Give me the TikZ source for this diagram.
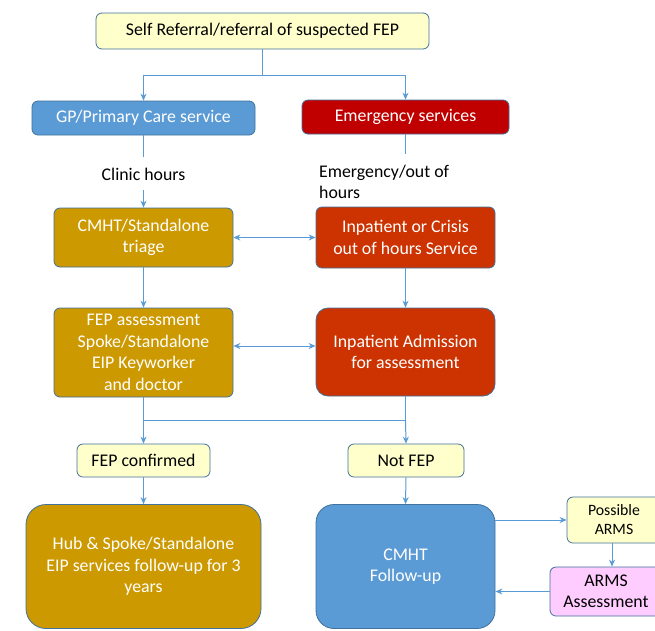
\documentclass[tikz,border=0pt]{standalone}
\usepackage{fontspec}
\setmainfont{Carlito}
\usetikzlibrary{arrows.meta,calc}
\definecolor{lineblue}{HTML}{5B9BD5}
\definecolor{edgeblue}{HTML}{41719C}
\definecolor{paleyellow}{HTML}{FFFFCC}
\definecolor{gpblue}{HTML}{5B9BD5}
\definecolor{emred}{HTML}{C00000}
\definecolor{crisisred}{HTML}{CC3300}
\definecolor{gold}{HTML}{CC9900}
\definecolor{armspink}{HTML}{FFCCFF}
\tikzset{
  box/.style={draw=edgeblue, line width=0.8pt, rounded corners=6pt, align=center,
    inner sep=0pt, font=\fontsize{17.8}{21.5}\selectfont},
  pale/.style={box, fill=paleyellow, text=black},
  blueb/.style={box, fill=gpblue, text=white},
  redb/.style={box, fill=emred, text=white},
  orangeb/.style={box, fill=crisisred, text=white},
  goldb/.style={box, fill=gold, text=white},
  pinkb/.style={box, fill=armspink, text=black},
  conn/.style={draw=lineblue, line width=1pt},
  arr/.style={conn, -{Stealth[length=7pt,width=6pt]}},
  dblarr/.style={conn, {Stealth[length=7pt,width=6pt]}-{Stealth[length=7pt,width=6pt]}},
  lbl/.style={font=\fontsize{17.8}{21.5}\selectfont, inner sep=0pt}
}
\begin{document}
\begin{tikzpicture}[x=1pt,y=-1pt]
\useasboundingbox (0,0) rectangle (655,630);
\fill[white] (0,0) rectangle (655,630);

% boxes
\node[pale, minimum width=333pt, minimum height=36pt] (top) at (262.5,31) {Self Referral/referral of suspected FEP};
\node[blueb, minimum width=223pt, minimum height=34pt] (gp) at (143.5,118) {GP/Primary Care service};
\node[redb, minimum width=207pt, minimum height=34pt] (em) at (405.5,117) {Emergency services};
\node[goldb, minimum width=179pt, minimum height=59pt] (cmht) at (143.5,237.5) {CMHT/Standalone\\triage};
\node[orangeb, minimum width=179pt, minimum height=61pt] (crisis) at (405.5,237.5) {Inpatient or Crisis\\out of hours Service};
\node[goldb, minimum width=179pt, minimum height=89pt] (fep) at (143.5,352.5) {FEP assessment\\Spoke/Standalone\\EIP Keyworker\\and doctor};
\node[orangeb, rounded corners=12pt, minimum width=179pt, minimum height=88pt] (adm) at (405.5,352) {Inpatient Admission\\for assessment};
\node[pale, minimum width=133pt, minimum height=33pt] (conf) at (143.5,460.5) {FEP confirmed};
\node[pale, minimum width=116pt, minimum height=33pt] (notfep) at (406,460.5) {Not FEP};
\node[goldb, rounded corners=20pt, minimum width=235pt, minimum height=124pt] (hub) at (143.5,566.5) {Hub \& Spoke/Standalone\\EIP services follow-up for 3\\years};
\node[blueb, rounded corners=18pt, minimum width=179pt, minimum height=124pt] (cmhtf) at (405.5,566.5) {CMHT\\Follow-up};
\node[pale, font=\fontsize{15.8}{19}\selectfont, minimum width=94pt, minimum height=46pt] (poss) at (614,520) {Possible\\ARMS};
\node[pinkb, minimum width=112pt, minimum height=49pt] (arms) at (606,591.5) {ARMS\\Assessment};

% labels on the service routes
\node[lbl] (clinic) at (143.5,174) {Clinic hours};
\node[lbl, anchor=west, align=left] (emhours) at (319,182) {Emergency/out of\\hours};

% helper points
\coordinate (split) at (262.5,75);
\coordinate (gpend) at (143.5,157);
\coordinate (clinicarr) at (143.5,190);
\coordinate (emend) at (405.5,154);
\coordinate (merge) at (143.5,420);
\coordinate (mergeR) at (405.5,420);

% referral split
\draw[conn] (top.south) -- (split);
\draw[arr] (split) -| (gp.north);
\draw[arr] (split) -| (em.north);

% clinic and emergency routes
\draw[conn] (gp.south) -- (gpend);
\draw[arr] (clinicarr) -- (cmht.north);
\draw[conn] (em.south) -- (emend);

% assessment steps
\draw[dblarr] (cmht.east) -- (crisis.west |- cmht.east);
\draw[arr] (cmht.south) -- (fep.north);
\draw[arr] (crisis.south) -- (adm.north);
\draw[dblarr] (fep.east |- 0,346) -- (adm.west |- 0,346);

% outcome merge
\draw[conn] (fep.south) -- (merge) -- (mergeR) -- (adm.south);
\draw[arr] (merge) -- (conf.north);
\draw[arr] (mergeR) -- (notfep.north);
\draw[arr] (conf.south) -- (hub.north);
\draw[arr] (notfep.south) -- (cmhtf.north);

% ARMS loop
\draw[arr] (cmhtf.east |- 0,520) -- (poss.west);
\draw[arr] (poss.south -| 612,0) -- (arms.north -| 612,0);
\draw[arr] (arms.west) -- (cmhtf.east |- arms.west);
\end{tikzpicture}
\end{document}
